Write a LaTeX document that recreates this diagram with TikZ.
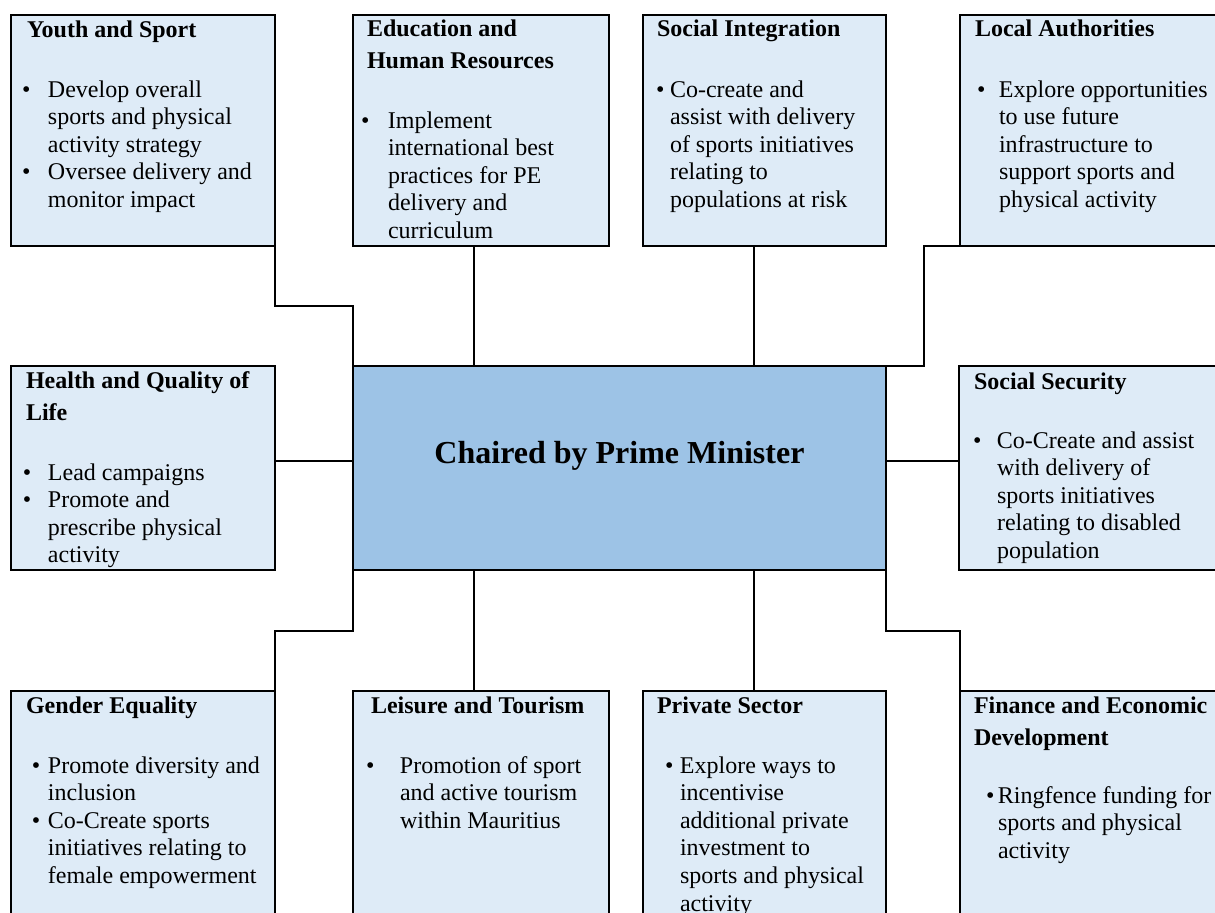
\documentclass[tikz,border=0pt]{standalone}
\usepackage{fontspec}
\setmainfont{Liberation Serif}
\usetikzlibrary{positioning}
\definecolor{boxblue}{HTML}{DEEBF7}
\definecolor{chairblue}{HTML}{9DC3E6}
\newcommand\hd[1]{\begin{tabular}[t]{@{}l@{}}#1\end{tabular}}
\newcommand\bl[2]{\begin{tabular}[t]{@{}p{#1}@{}l@{}}#2\end{tabular}}

\begin{document}
\begin{tikzpicture}[x=0.5pt,y=-0.5pt,
every node/.style={inner sep=0pt,outer sep=0pt,font=\fontsize{12}{13.8}\selectfont},
unit/.style={draw,line width=1pt,fill=boxblue,anchor=north west},
head/.style={anchor=base west,font=\bfseries\fontsize{12}{16}\selectfont},
items/.style={anchor=base west},
link/.style={line width=1pt}]
\useasboundingbox (0,0) rectangle (1215,912);
\clip (0,0) rectangle (1215,912);

% boxes
\node[unit,minimum width=132pt,minimum height=115.5pt] (ys) at (11,15) {};
\node[unit,minimum width=128pt,minimum height=115.5pt] (ehr) at (353,15) {};
\node[unit,minimum width=121.5pt,minimum height=115.5pt] (si) at (643,15) {};
\node[unit,minimum width=150pt,minimum height=115.5pt] (la) at (960,15) {};
\node[unit,minimum width=132pt,minimum height=102pt] (hql) at (11,366) {};
\node[unit,fill=chairblue,minimum width=266.5pt,minimum height=102pt] (cpm) at (353,366) {};
\node[unit,minimum width=150pt,minimum height=102pt] (ss) at (959,366) {};
\node[unit,minimum width=132pt,minimum height=130pt] (ge) at (11,691) {};
\node[unit,minimum width=128pt,minimum height=130pt] (lt) at (353,691) {};
\node[unit,minimum width=121.5pt,minimum height=130pt] (ps) at (643,691) {};
\node[unit,minimum width=150pt,minimum height=130pt] (fed) at (960,691) {};

\draw[link] (ys.south east) -- ++(0,60) -| (cpm.north west);
\draw[link] (ehr.south west) ++(121,0) -- ++(0,120);
\draw[link] (si.south west) ++(111,0) -- ++(0,120);
\draw[link] (la.south west) -- ++(-36,0) |- (cpm.north east);
\draw[link] (hql.north east) ++(0,95) -- ++(78,0);
\draw[link] (cpm.north east) ++(0,95) -- ++(73,0);
\draw[link] (cpm.south west) -- ++(0,61) -| (ge.north east);
\draw[link] (cpm.south west) ++(121,0) -- ++(0,121);
\draw[link] (cpm.south west) ++(401,0) -- ++(0,121);
\draw[link] (cpm.south east) -- ++(0,61) -| (fed.north west);

\node[font=\bfseries\fontsize{16}{19}\selectfont,anchor=base] (cpm-t) at ([yshift=2.5pt]cpm.center) {Chaired by Prime Minister};

% top row
\node[head] (ys-h) at (27,37) {\hd{Youth and Sport}};
\node[items] (ys-i) at (22,97) {\bl{13pt}{\textbullet & Develop overall\\ & sports and physical\\ & activity strategy\\ \textbullet & Oversee delivery and\\ & monitor impact}};
\node[head] (ehr-h) at (367,36) {\hd{Education and\\Human Resources}};
\node[items] (ehr-i) at (361,128) {\bl{13.5pt}{\textbullet & Implement\\ & international best\\ & practices for PE\\ & delivery and\\ & curriculum}};
\node[head] (si-h) at (657,36) {\hd{Social Integration}};
\node[items] (si-i) at (656,97) {\bl{7pt}{\textbullet & Co-create and\\ & assist with delivery\\ & of sports initiatives\\ & relating to\\ & populations at risk}};
\node[head] (la-h) at (975,36) {\hd{Local Authorities}};
\node[items] (la-i) at (977,97) {\bl{11pt}{\textbullet & Explore opportunities\\ & to use future\\ & infrastructure to\\ & support sports and\\ & physical activity}};

% middle row
\node[head] (hql-h) at (26,388) {\hd{Health and Quality of\\Life}};
\node[items] (hql-i) at (23,480) {\bl{12.5pt}{\textbullet & Lead campaigns\\ \textbullet & Promote and\\ & prescribe physical\\ & activity}};
\node[head] (ss-h) at (974,389) {\hd{Social Security}};
\node[items] (ss-i) at (973,448) {\bl{12pt}{\textbullet & Co-Create and assist\\ & with delivery of\\ & sports initiatives\\ & relating to disabled\\ & population}};

% bottom row
\node[head] (ge-h) at (26,713) {\hd{Gender Equality}};
\node[items] (ge-i) at (32,773) {\bl{8pt}{\textbullet & Promote diversity and\\ & inclusion\\ \textbullet & Co-Create sports\\ & initiatives relating to\\ & female empowerment}};
\node[head] (lt-h) at (371,713) {\hd{Leisure and Tourism}};
\node[items] (lt-i) at (366,773) {\bl{17pt}{\textbullet & Promotion of sport\\ & and active tourism\\ & within Mauritius}};
\node[head] (ps-h) at (657,713) {\hd{Private Sector}};
\node[items] (ps-i) at (665,773) {\bl{7.5pt}{\textbullet & Explore ways to\\ & incentivise\\ & additional private\\ & investment to\\ & sports and physical\\ & activity}};
\node[head] (fed-h) at (974,713) {\hd{Finance and Economic\\Development}};
\node[items] (fed-i) at (986,803) {\bl{6pt}{\textbullet & Ringfence funding for\\ & sports and physical\\ & activity}};
\end{tikzpicture}
\end{document}
